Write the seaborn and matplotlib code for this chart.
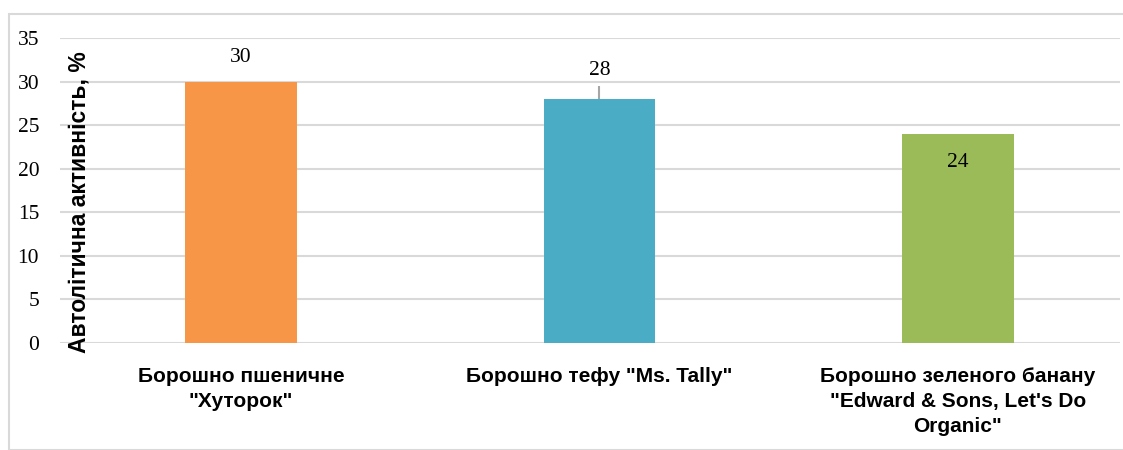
import matplotlib
matplotlib.use("Agg")
import matplotlib.pyplot as plt
import seaborn as sns
import pandas as pd
from matplotlib.patches import Rectangle

categories = ["Борошно пшеничне\n\"Хуторок\"",
              "Борошно тефу \"Ms. Tally\"",
              "Борошно зеленого банану\n\"Edward & Sons, Let's Do\nOrganic\""]
values = [30, 28, 24]
errors = [0, 1.5, 0]
colors = ["#F79646", "#4BACC6", "#9BBB59"]
y_label = "Автолітична активність, %"

df = pd.DataFrame({"cat": categories, "val": values})

sns.set_style("white")
plt.rcParams["text.color"] = "black"
plt.rcParams["xtick.color"] = "black"
plt.rcParams["ytick.color"] = "black"

fig = plt.figure(figsize=(11.23, 4.5), dpi=100)
ax = fig.add_axes([60 / 1123, 1 - 343 / 450, 1060 / 1123, 305 / 450])

sns.barplot(data=df, x="cat", y="val", hue="cat", palette=colors, saturation=1,
            width=0.31, linewidth=0, legend=False, ax=ax, zorder=2)

ax.set_ylim(0, 35)
ax.set_xlim(-0.505, 2.452)
ax.set_yticks(range(0, 36, 5))
ax.yaxis.grid(True, color="#D9D9D9", linewidth=1.5, zorder=0)
ax.set_axisbelow(True)
for s in ax.spines.values():
    s.set_visible(False)
ax.tick_params(length=0)

for lab in ax.get_yticklabels():
    lab.set_fontfamily("Liberation Serif")
    lab.set_fontsize(15.5)
    lab.set_color("black")
ax.tick_params(axis="y", pad=15)

ax.set_xticks(range(len(categories)))
ax.set_xticklabels(categories, fontfamily="Liberation Sans",
                   fontweight="bold", fontsize=15, linespacing=1.4, color="black")
ax.tick_params(axis="x", pad=17)
ax.set_xlabel("")
ax.set_ylabel("")

fig.text(79 / 1123, 1 - 202 / 450, y_label, rotation=90, ha="center", va="center",
         fontfamily="Liberation Sans", fontweight="bold", fontsize=16.5, color="black")

# error bar + value labels, positions taken from drawn bars
for bar, v, e in zip(ax.patches, values, errors):
    xc = bar.get_x() + bar.get_width() / 2
    if e > 0:
        ax.errorbar(xc, v, yerr=[[0], [e]], fmt="none", ecolor="#A6A6A6",
                    elinewidth=1.5, capsize=0, zorder=3)
    if v == 24:
        ax.text(xc, v - 3.25, str(v), ha="center", va="center",
                fontfamily="Liberation Serif", fontsize=15.5, color="black")
    else:
        ax.text(xc, v + e + (1.8 if e > 0 else 2.75), str(v), ha="center", va="center",
                fontfamily="Liberation Serif", fontsize=15.5, color="black")

fig.patches.append(Rectangle((9 / 1123, 0), 1, 1 - 14 / 450, transform=fig.transFigure,
                             fill=False, edgecolor="#D9D9D9", linewidth=1.5))

fig.savefig("out.png", dpi=100)
